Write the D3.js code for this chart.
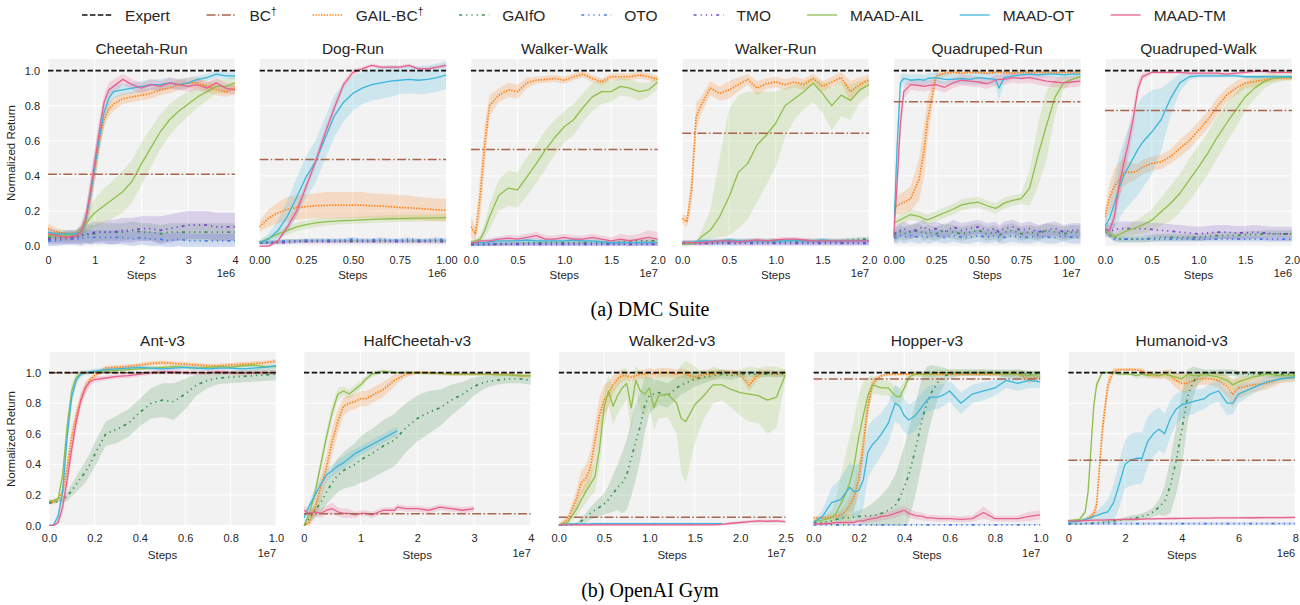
<!DOCTYPE html>
<html>
<head>
<meta charset="utf-8">
<script src="https://cdn.jsdelivr.net/npm/d3@7"></script>
<style>
  body { margin: 0; background: #ffffff; }
  svg { display: block; }
  text { font-family: "Liberation Sans", Arial, sans-serif; fill: #262626; }
</style>
</head>
<body>
<svg id="chart" width="1300" height="605"></svg>
<script>
// ---------------- methods (legend order) ----------------
const methodNames  = ["Expert", "BC", "GAIL-BC", "GAIfO", "OTO", "TMO", "MAAD-AIL", "MAAD-OT", "MAAD-TM"];
const methodDagger = [false, true, true, false, false, false, false, false, false];
const methodColors = ["#111111", "#a8654b", "#ff7f0e", "#3b9150", "#4a7be0", "#7548c8", "#8fbf4b", "#3cb6da", "#e8608f"];
const methodDash   = ["5.5,2.4", "9,2.4,1.5,2.4", "1.4,1.4", "3,4,1.2,4,1.2,4,1.2,4", "3,4,1.2,4,1.2,4,1.2,4", "3,4,1.2,4,1.2,4,1.2,4", null, null, null];
const methodWidth  = [1.6, 1.5, 1.7, 1.7, 1.7, 1.7, 1.3, 1.3, 1.3];

// ================= DMC Suite =================
// Cheetah-Run (x in 1e6 steps)
const cheetahSteps = [0,0.2,0.4,0.6,0.7,0.8,0.9,1.0,1.1,1.2,1.3,1.4,1.6,1.8,2.0,2.2,2.4,2.6,2.8,3.0,3.2,3.4,3.6,3.8,4.0];
const cheetahBC = 0.41;
const cheetahGailBC   = [0.10,0.08,0.07,0.07,0.08,0.13,0.27,0.43,0.60,0.72,0.78,0.81,0.84,0.85,0.86,0.87,0.89,0.90,0.92,0.93,0.93,0.91,0.89,0.88,0.90];
const cheetahGailBCsd = [0.03,0.02,0.02,0.02,0.03,0.05,0.07,0.07,0.06,0.05,0.04,0.04,0.03,0.03,0.03,0.03,0.03,0.03,0.03,0.03,0.03,0.03,0.03,0.03,0.03];
const cheetahGAIfO    = [0.05,0.05,0.05,0.05,0.06,0.06,0.07,0.07,0.08,0.08,0.08,0.08,0.08,0.09,0.08,0.08,0.07,0.08,0.08,0.08,0.08,0.08,0.08,0.08,0.08];
const cheetahGAIfOsd  = [0.03,0.03,0.03,0.03,0.04,0.04,0.05,0.05,0.05,0.05,0.05,0.05,0.05,0.05,0.05,0.05,0.05,0.05,0.05,0.05,0.05,0.05,0.05,0.05,0.05];
const cheetahOTO      = [0.03,0.03,0.04,0.04,0.04,0.05,0.05,0.05,0.05,0.05,0.05,0.05,0.05,0.04,0.05,0.04,0.04,0.03,0.04,0.03,0.03,0.03,0.03,0.03,0.03];
const cheetahOTOsd    = [0.03,0.03,0.03,0.03,0.04,0.04,0.04,0.04,0.04,0.04,0.04,0.04,0.04,0.04,0.04,0.04,0.04,0.04,0.04,0.04,0.04,0.04,0.04,0.04,0.04];
const cheetahTMO      = [0.04,0.04,0.05,0.05,0.06,0.07,0.07,0.08,0.08,0.08,0.08,0.08,0.09,0.09,0.10,0.10,0.09,0.10,0.11,0.12,0.12,0.12,0.11,0.11,0.11];
const cheetahTMOsd    = [0.03,0.03,0.04,0.04,0.05,0.05,0.06,0.06,0.06,0.06,0.07,0.07,0.07,0.07,0.07,0.07,0.08,0.08,0.08,0.08,0.08,0.08,0.08,0.08,0.08];
const cheetahAIL      = [0.06,0.06,0.06,0.07,0.09,0.12,0.16,0.19,0.21,0.23,0.25,0.27,0.31,0.37,0.47,0.56,0.65,0.72,0.77,0.81,0.85,0.88,0.91,0.91,0.93];
const cheetahAILsd    = [0.02,0.02,0.02,0.02,0.03,0.05,0.07,0.08,0.09,0.10,0.10,0.11,0.12,0.12,0.12,0.11,0.10,0.09,0.08,0.07,0.06,0.05,0.04,0.04,0.04];
const cheetahOT       = [0.08,0.07,0.07,0.07,0.08,0.14,0.28,0.45,0.62,0.76,0.84,0.88,0.89,0.90,0.91,0.92,0.92,0.93,0.92,0.93,0.95,0.96,0.98,0.97,0.97];
const cheetahOTsd     = [0.02,0.02,0.02,0.02,0.04,0.07,0.09,0.10,0.09,0.07,0.05,0.04,0.03,0.03,0.03,0.03,0.03,0.03,0.03,0.03,0.02,0.02,0.02,0.02,0.02];
const cheetahTM       = [0.07,0.06,0.05,0.06,0.08,0.15,0.30,0.48,0.66,0.82,0.89,0.91,0.95,0.92,0.90,0.92,0.91,0.93,0.92,0.91,0.92,0.90,0.93,0.90,0.89];
const cheetahTMsd     = [0.02,0.02,0.02,0.02,0.03,0.05,0.07,0.08,0.07,0.05,0.04,0.04,0.03,0.03,0.03,0.03,0.03,0.03,0.03,0.03,0.03,0.03,0.03,0.03,0.03];

// Dog-Run (x in 1e6 steps)
const dogSteps = [0,0.05,0.1,0.15,0.2,0.25,0.3,0.35,0.4,0.45,0.5,0.55,0.6,0.65,0.7,0.75,0.8,0.85,0.9,0.95,1.0];
const dogBC = 0.494;
const dogGailBC   = [0.11,0.16,0.19,0.21,0.22,0.225,0.23,0.232,0.234,0.234,0.234,0.233,0.23,0.228,0.225,0.22,0.218,0.215,0.21,0.207,0.205];
const dogGailBCsd = [0.03,0.05,0.06,0.07,0.07,0.07,0.07,0.075,0.075,0.075,0.075,0.075,0.07,0.07,0.07,0.07,0.07,0.065,0.065,0.065,0.065];
const dogGAIfO    = [0.02,0.02,0.025,0.03,0.03,0.03,0.03,0.03,0.03,0.03,0.03,0.03,0.03,0.03,0.03,0.03,0.03,0.03,0.03,0.03,0.03];
const dogOTO      = [0.02,0.02,0.025,0.03,0.03,0.035,0.035,0.035,0.035,0.035,0.04,0.035,0.035,0.04,0.035,0.035,0.04,0.035,0.035,0.04,0.035];
const dogTMO      = [0.02,0.02,0.02,0.02,0.025,0.025,0.025,0.025,0.025,0.025,0.025,0.025,0.025,0.025,0.025,0.025,0.025,0.025,0.025,0.025,0.025];
const dogMinorSd  = [0.01,0.01,0.01,0.01,0.01,0.01,0.01,0.01,0.01,0.01,0.01,0.01,0.01,0.01,0.01,0.01,0.01,0.01,0.01,0.01,0.01];
const dogAIL      = [0.02,0.045,0.07,0.09,0.11,0.122,0.133,0.138,0.142,0.145,0.147,0.149,0.152,0.154,0.156,0.157,0.158,0.159,0.16,0.161,0.162];
const dogAILsd    = [0.01,0.015,0.02,0.025,0.025,0.025,0.025,0.022,0.02,0.02,0.02,0.02,0.02,0.02,0.02,0.02,0.02,0.02,0.02,0.02,0.02];
const dogOT       = [0.02,0.04,0.09,0.17,0.28,0.395,0.48,0.61,0.74,0.82,0.87,0.90,0.92,0.93,0.94,0.945,0.95,0.945,0.95,0.96,0.975];
const dogOTsd     = [0.01,0.03,0.06,0.09,0.11,0.12,0.12,0.12,0.12,0.11,0.10,0.09,0.09,0.09,0.09,0.08,0.08,0.08,0.08,0.08,0.08];
const dogTM       = [0.00,0.00,0.03,0.11,0.20,0.34,0.48,0.64,0.785,0.92,0.99,1.01,1.03,1.02,1.02,1.02,1.03,1.01,1.01,1.02,1.03];
const dogTMsd     = [0.005,0.005,0.01,0.02,0.03,0.03,0.03,0.03,0.03,0.02,0.02,0.01,0.01,0.01,0.01,0.01,0.01,0.01,0.01,0.01,0.01];

// Walker-Walk (x in 1e7 steps)
const wwSteps = [0,0.05,0.1,0.15,0.2,0.3,0.4,0.5,0.6,0.7,0.8,0.9,1.0,1.1,1.2,1.3,1.4,1.5,1.6,1.7,1.8,1.9,2.0];
const wwBC = 0.551;
const wwGailBC   = [0.11,0.07,0.28,0.585,0.80,0.86,0.89,0.88,0.93,0.945,0.95,0.955,0.945,0.965,0.98,0.955,0.935,0.965,0.965,0.965,0.975,0.965,0.95];
const wwGailBCsd = [0.06,0.04,0.12,0.12,0.06,0.04,0.04,0.04,0.03,0.02,0.02,0.02,0.02,0.02,0.02,0.02,0.02,0.02,0.02,0.02,0.02,0.02,0.02];
const wwGAIfO    = [0.01,0.01,0.01,0.01,0.01,0.015,0.015,0.015,0.02,0.02,0.02,0.02,0.02,0.02,0.02,0.02,0.02,0.02,0.025,0.03,0.03,0.03,0.03];
const wwOTO      = [0.01,0.01,0.01,0.01,0.01,0.01,0.012,0.012,0.012,0.012,0.012,0.012,0.012,0.012,0.012,0.012,0.012,0.012,0.012,0.012,0.012,0.012,0.012];
const wwTMO      = [0.01,0.01,0.01,0.01,0.01,0.01,0.01,0.01,0.01,0.01,0.01,0.01,0.01,0.01,0.01,0.01,0.01,0.01,0.01,0.01,0.01,0.01,0.01];
const wwMinorSd  = [0.01,0.01,0.01,0.01,0.01,0.01,0.01,0.01,0.01,0.01,0.01,0.01,0.01,0.01,0.01,0.01,0.01,0.01,0.01,0.01,0.01,0.01,0.01];
const wwAIL      = [0.02,0.03,0.04,0.09,0.167,0.29,0.33,0.32,0.395,0.47,0.55,0.62,0.68,0.72,0.79,0.85,0.88,0.88,0.91,0.90,0.88,0.89,0.935];
const wwAILsd    = [0.01,0.01,0.02,0.04,0.07,0.09,0.10,0.10,0.11,0.11,0.11,0.10,0.09,0.09,0.08,0.08,0.07,0.06,0.05,0.05,0.05,0.04,0.04];
const wwOT       = [0.02,0.02,0.02,0.02,0.025,0.03,0.03,0.03,0.035,0.03,0.03,0.03,0.03,0.035,0.03,0.03,0.025,0.02,0.02,0.02,0.02,0.02,0.02];
const wwOTsd     = [0.015,0.015,0.015,0.015,0.015,0.015,0.015,0.015,0.015,0.015,0.015,0.015,0.015,0.015,0.015,0.015,0.015,0.015,0.015,0.015,0.015,0.015,0.015];
const wwTM       = [0.02,0.02,0.03,0.03,0.03,0.04,0.045,0.04,0.05,0.06,0.04,0.04,0.05,0.04,0.04,0.05,0.04,0.03,0.04,0.03,0.04,0.05,0.04];
const wwTMsd     = [0.01,0.01,0.01,0.01,0.015,0.015,0.02,0.02,0.02,0.02,0.02,0.02,0.02,0.02,0.02,0.02,0.02,0.02,0.03,0.03,0.03,0.04,0.04];

// Walker-Run (x in 1e7 steps)
const wrSteps = [0,0.05,0.1,0.15,0.2,0.3,0.4,0.5,0.6,0.7,0.8,0.9,1.0,1.1,1.2,1.3,1.4,1.5,1.6,1.7,1.8,1.9,2.0];
const wrBC = 0.643;
const wrGailBC   = [0.158,0.14,0.32,0.74,0.80,0.90,0.87,0.89,0.92,0.95,0.90,0.925,0.935,0.92,0.935,0.92,0.955,0.91,0.935,0.96,0.88,0.92,0.95];
const wrGailBCsd = [0.03,0.03,0.10,0.08,0.05,0.04,0.04,0.05,0.04,0.03,0.04,0.03,0.03,0.03,0.03,0.03,0.03,0.03,0.03,0.03,0.06,0.04,0.03];
const wrGAIfO    = [0.02,0.02,0.02,0.02,0.02,0.02,0.025,0.03,0.03,0.03,0.03,0.03,0.03,0.03,0.03,0.03,0.03,0.03,0.03,0.03,0.035,0.04,0.04];
const wrOTO      = [0.02,0.02,0.02,0.02,0.02,0.02,0.02,0.02,0.02,0.02,0.02,0.02,0.02,0.02,0.02,0.02,0.02,0.02,0.02,0.02,0.02,0.02,0.02];
const wrTMO      = [0.015,0.015,0.015,0.015,0.015,0.015,0.015,0.015,0.015,0.015,0.015,0.015,0.015,0.015,0.015,0.015,0.015,0.015,0.015,0.015,0.015,0.015,0.015];
const wrMinorSd  = [0.012,0.012,0.012,0.012,0.012,0.012,0.012,0.012,0.012,0.012,0.012,0.012,0.012,0.012,0.012,0.012,0.012,0.012,0.012,0.012,0.012,0.012,0.012];
const wrAIL      = [0.01,0.01,0.015,0.02,0.05,0.09,0.167,0.28,0.42,0.47,0.576,0.633,0.70,0.80,0.84,0.88,0.928,0.87,0.80,0.86,0.83,0.89,0.92];
const wrAILlo    = [0.0,0.005,0.01,0.01,0.02,0.04,0.05,0.06,0.10,0.15,0.25,0.35,0.45,0.62,0.72,0.78,0.82,0.76,0.66,0.74,0.72,0.82,0.86];
const wrAILhi    = [0.02,0.02,0.02,0.03,0.08,0.20,0.50,0.78,0.86,0.88,0.88,0.88,0.88,0.90,0.92,0.94,0.96,0.94,0.90,0.94,0.92,0.94,0.95];
const wrOT       = [0.02,0.02,0.02,0.025,0.03,0.03,0.03,0.035,0.03,0.03,0.03,0.03,0.03,0.03,0.035,0.03,0.03,0.035,0.03,0.03,0.03,0.03,0.03];
const wrTM       = [0.02,0.02,0.02,0.02,0.02,0.025,0.03,0.03,0.025,0.03,0.035,0.03,0.035,0.04,0.04,0.035,0.03,0.03,0.03,0.03,0.03,0.03,0.03];

// Quadruped-Run (x in 1e7 steps)
const qrSteps = [0,0.02,0.04,0.06,0.1,0.15,0.18,0.2,0.25,0.3,0.35,0.4,0.45,0.5,0.55,0.6,0.62,0.65,0.7,0.75,0.8,0.85,0.9,0.95,1.0,1.05,1.1];
const qrBC = 0.823;
const qrGailBC   = [0.22,0.23,0.24,0.25,0.27,0.38,0.55,0.72,0.97,0.985,0.99,0.985,0.99,0.99,0.985,0.99,0.99,0.99,0.985,0.99,0.99,0.99,0.99,0.985,0.99,0.99,0.99];
const qrGailBCsd = [0.04,0.05,0.06,0.06,0.07,0.12,0.15,0.12,0.03,0.02,0.01,0.01,0.01,0.01,0.01,0.01,0.01,0.01,0.01,0.01,0.01,0.01,0.01,0.01,0.01,0.01,0.01];
const qrGAIfO    = [0.06,0.07,0.08,0.07,0.08,0.09,0.07,0.08,0.07,0.09,0.08,0.07,0.08,0.09,0.07,0.08,0.06,0.08,0.09,0.07,0.08,0.07,0.09,0.08,0.07,0.08,0.08];
const qrGAIfOsd  = [0.04,0.04,0.04,0.04,0.04,0.04,0.04,0.04,0.04,0.04,0.04,0.04,0.04,0.04,0.04,0.04,0.04,0.04,0.04,0.04,0.04,0.04,0.04,0.04,0.04,0.04,0.04];
const qrOTO      = [0.05,0.05,0.06,0.05,0.06,0.05,0.06,0.05,0.06,0.05,0.06,0.05,0.05,0.06,0.05,0.06,0.05,0.05,0.06,0.05,0.05,0.06,0.05,0.05,0.06,0.05,0.05];
const qrOTOsd    = [0.035,0.035,0.035,0.035,0.035,0.035,0.035,0.035,0.035,0.035,0.035,0.035,0.035,0.035,0.035,0.035,0.035,0.035,0.035,0.035,0.035,0.035,0.035,0.035,0.035,0.035,0.035];
const qrTMO      = [0.07,0.08,0.09,0.10,0.08,0.10,0.11,0.09,0.10,0.08,0.11,0.09,0.10,0.11,0.09,0.10,0.08,0.10,0.11,0.09,0.10,0.08,0.09,0.10,0.08,0.09,0.09];
const qrTMOsd    = [0.04,0.04,0.04,0.04,0.04,0.04,0.04,0.04,0.04,0.04,0.04,0.04,0.04,0.04,0.04,0.04,0.04,0.04,0.04,0.04,0.04,0.04,0.04,0.04,0.04,0.04,0.04];
const qrAIL      = [0.13,0.14,0.15,0.16,0.18,0.17,0.155,0.15,0.17,0.19,0.21,0.235,0.245,0.25,0.23,0.215,0.225,0.245,0.26,0.27,0.33,0.52,0.69,0.85,0.93,0.95,0.965];
const qrAILsd    = [0.02,0.02,0.03,0.03,0.03,0.03,0.03,0.03,0.03,0.03,0.03,0.03,0.03,0.03,0.03,0.03,0.03,0.03,0.03,0.03,0.10,0.18,0.20,0.10,0.04,0.02,0.02];
const qrOT       = [0.05,0.55,0.93,0.955,0.945,0.95,0.945,0.955,0.96,0.95,0.95,0.955,0.95,0.96,0.955,0.95,0.90,0.96,0.97,0.975,0.98,0.975,0.98,0.98,0.975,0.98,0.98];
const qrOTsd     = [0.02,0.10,0.04,0.03,0.03,0.03,0.03,0.03,0.03,0.03,0.03,0.03,0.03,0.04,0.03,0.04,0.07,0.03,0.02,0.02,0.02,0.02,0.02,0.02,0.02,0.02,0.02];
const qrTM       = [0.05,0.35,0.70,0.88,0.92,0.915,0.91,0.915,0.92,0.905,0.93,0.945,0.94,0.935,0.925,0.945,0.95,0.95,0.96,0.955,0.96,0.95,0.94,0.935,0.93,0.935,0.94];
const qrTMsd     = [0.02,0.10,0.10,0.04,0.03,0.03,0.03,0.03,0.03,0.03,0.03,0.03,0.03,0.03,0.03,0.03,0.03,0.03,0.03,0.03,0.03,0.03,0.03,0.03,0.03,0.03,0.03];

// Quadruped-Walk (x in 1e6 steps)
const qwSteps = [0,0.05,0.1,0.15,0.2,0.25,0.3,0.35,0.4,0.5,0.6,0.7,0.8,0.9,1.0,1.1,1.2,1.3,1.4,1.5,1.6,1.7,1.8,1.9,2.0];
const qwBC = 0.772;
const qwGailBC   = [0.167,0.28,0.34,0.376,0.42,0.42,0.42,0.43,0.45,0.47,0.48,0.51,0.557,0.60,0.66,0.72,0.795,0.86,0.90,0.93,0.937,0.947,0.956,0.956,0.956];
const qwGailBCsd = [0.05,0.08,0.10,0.10,0.08,0.06,0.05,0.04,0.04,0.04,0.04,0.04,0.05,0.05,0.05,0.05,0.05,0.04,0.04,0.03,0.03,0.02,0.02,0.01,0.01];
const qwGAIfO    = [0.09,0.07,0.05,0.04,0.04,0.04,0.04,0.04,0.04,0.045,0.05,0.05,0.05,0.05,0.05,0.055,0.06,0.06,0.06,0.065,0.065,0.07,0.07,0.07,0.07];
const qwGAIfOsd  = [0.02,0.02,0.02,0.02,0.02,0.02,0.02,0.02,0.02,0.02,0.02,0.02,0.02,0.02,0.02,0.02,0.02,0.02,0.02,0.02,0.02,0.02,0.02,0.02,0.02];
const qwOTO      = [0.09,0.06,0.04,0.04,0.04,0.04,0.04,0.04,0.04,0.04,0.04,0.04,0.04,0.04,0.04,0.04,0.04,0.04,0.04,0.04,0.04,0.04,0.04,0.04,0.04];
const qwOTOsd    = [0.015,0.015,0.015,0.015,0.015,0.015,0.015,0.015,0.015,0.015,0.015,0.015,0.015,0.015,0.015,0.015,0.015,0.015,0.015,0.015,0.015,0.015,0.015,0.015,0.015];
const qwTMO      = [0.09,0.09,0.09,0.10,0.10,0.10,0.10,0.10,0.10,0.095,0.09,0.085,0.08,0.075,0.07,0.075,0.08,0.08,0.075,0.075,0.08,0.075,0.07,0.07,0.07];
const qwTMOsd    = [0.04,0.04,0.04,0.04,0.04,0.04,0.04,0.04,0.04,0.04,0.04,0.04,0.04,0.04,0.04,0.04,0.04,0.04,0.04,0.04,0.04,0.04,0.04,0.04,0.04];
const qwAIL      = [0.09,0.07,0.053,0.065,0.08,0.09,0.10,0.11,0.12,0.148,0.196,0.243,0.30,0.376,0.45,0.53,0.62,0.70,0.776,0.85,0.90,0.937,0.956,0.962,0.962];
const qwAILsd    = [0.02,0.02,0.02,0.02,0.03,0.03,0.04,0.04,0.05,0.06,0.08,0.10,0.11,0.12,0.12,0.12,0.12,0.11,0.10,0.08,0.06,0.04,0.03,0.02,0.02];
const qwOT       = [0.11,0.16,0.24,0.33,0.40,0.45,0.50,0.55,0.59,0.65,0.72,0.84,0.93,0.965,0.97,0.97,0.97,0.97,0.97,0.965,0.965,0.965,0.965,0.965,0.965];
const qwOTsd     = [0.03,0.08,0.14,0.18,0.20,0.22,0.24,0.26,0.26,0.24,0.18,0.10,0.05,0.02,0.01,0.01,0.01,0.01,0.01,0.01,0.01,0.01,0.01,0.01,0.01];
const qwTM       = [0.09,0.09,0.167,0.34,0.47,0.585,0.72,0.89,0.966,0.99,0.99,0.99,0.99,0.985,0.985,0.985,0.985,0.98,0.985,0.99,0.995,0.995,0.99,0.99,0.99];
const qwTMsd     = [0.02,0.03,0.06,0.08,0.08,0.08,0.07,0.05,0.02,0.01,0.01,0.01,0.01,0.01,0.01,0.01,0.01,0.01,0.01,0.01,0.01,0.01,0.01,0.01,0.01];

// ================= OpenAI Gym =================
// Ant-v3 (x in 1e7 steps)
const antSteps = [0,0.02,0.04,0.06,0.08,0.1,0.12,0.14,0.16,0.18,0.2,0.25,0.3,0.35,0.4,0.45,0.5,0.55,0.6,0.65,0.7,0.75,0.8,0.85,0.9,0.95,1.0];
const antBC = 1.0;
const antGailBC   = [0.15,0.155,0.17,0.22,0.38,0.58,0.72,0.82,0.90,0.95,0.98,1.03,1.035,1.04,1.05,1.06,1.065,1.06,1.055,1.05,1.045,1.045,1.05,1.055,1.06,1.065,1.075];
const antGailBCsd = [0.01,0.01,0.02,0.04,0.06,0.06,0.05,0.04,0.03,0.02,0.02,0.015,0.015,0.015,0.015,0.015,0.015,0.015,0.015,0.015,0.015,0.015,0.015,0.015,0.015,0.015,0.015];
const antGAIfO    = [0.15,0.15,0.16,0.17,0.19,0.23,0.27,0.31,0.35,0.40,0.46,0.60,0.63,0.67,0.74,0.80,0.82,0.81,0.86,0.92,0.95,0.965,0.97,0.975,0.98,0.985,0.99];
const antGAIfOsd  = [0.01,0.01,0.01,0.02,0.03,0.04,0.05,0.06,0.07,0.07,0.08,0.08,0.09,0.09,0.09,0.10,0.11,0.12,0.10,0.07,0.05,0.04,0.04,0.04,0.04,0.04,0.04];
const antAIL      = [0.16,0.165,0.175,0.33,0.65,0.88,0.97,0.995,1.0,1.0,1.005,1.01,1.015,1.02,1.025,1.03,1.035,1.04,1.035,1.03,1.035,1.04,1.035,1.045,1.05,1.04,1.04];
const antAILsd    = [0.01,0.01,0.01,0.04,0.06,0.05,0.03,0.02,0.01,0.01,0.01,0.01,0.01,0.01,0.01,0.01,0.01,0.01,0.01,0.01,0.01,0.01,0.01,0.01,0.01,0.01,0.01];
const antOT       = [0.0,0.005,0.06,0.22,0.58,0.84,0.95,0.99,1.0,1.005,1.01,1.02,1.025,1.03,1.035,1.03,1.025,1.03,1.035,1.03,1.025,1.03,1.03,1.025,1.03,1.035,1.045];
const antOTsd     = [0.005,0.01,0.03,0.06,0.07,0.05,0.03,0.02,0.015,0.015,0.015,0.015,0.015,0.015,0.015,0.015,0.015,0.015,0.015,0.015,0.015,0.015,0.015,0.015,0.015,0.015,0.015];
const antTM       = [0.0,0.0,0.02,0.12,0.30,0.50,0.68,0.82,0.90,0.94,0.955,0.965,0.975,0.98,0.99,1.0,1.005,1.005,1.0,1.0,1.0,1.005,1.0,0.995,1.0,1.0,1.0];
const antTMsd     = [0.005,0.01,0.02,0.05,0.07,0.07,0.06,0.05,0.04,0.03,0.02,0.015,0.015,0.015,0.015,0.015,0.015,0.015,0.015,0.015,0.015,0.015,0.015,0.015,0.015,0.015,0.015];

// HalfCheetah-v3 (x in 1e7 steps)
const hcSteps = [0,0.1,0.2,0.3,0.4,0.5,0.6,0.7,0.8,0.9,1.0,1.1,1.2,1.4,1.6,1.65,1.8,2.0,2.2,2.4,2.6,2.8,3.0,3.2,3.4,3.6,3.8,4.0];
const hcBC = 0.077;
const hcGailBC   = [0.0,0.02,0.12,0.25,0.38,0.55,0.68,0.78,0.80,0.81,0.83,0.83,0.85,0.89,0.95,0.96,0.99,1.0,1.0,0.995,0.99,0.99,0.99,0.99,0.99,0.99,0.98,0.98];
const hcGailBCsd = [0.01,0.03,0.06,0.08,0.09,0.09,0.08,0.06,0.05,0.05,0.05,0.05,0.05,0.05,0.04,0.03,0.02,0.01,0.01,0.01,0.01,0.01,0.01,0.01,0.01,0.01,0.01,0.01];
const hcGAIfO    = [0.0,0.05,0.10,0.15,0.22,0.28,0.33,0.36,0.38,0.40,0.43,0.45,0.47,0.52,0.56,0.58,0.64,0.70,0.74,0.77,0.82,0.86,0.91,0.94,0.95,0.96,0.96,0.95];
const hcGAIfOsd  = [0.01,0.03,0.05,0.07,0.08,0.10,0.11,0.12,0.13,0.14,0.15,0.16,0.16,0.17,0.17,0.17,0.16,0.15,0.14,0.12,0.10,0.08,0.06,0.04,0.03,0.03,0.03,0.03];
const hcAIL      = [0.0,0.08,0.22,0.40,0.58,0.74,0.86,0.88,0.86,0.89,0.92,0.96,0.99,1.01,1.0,1.0,1.0,1.0,0.995,0.995,0.99,0.99,0.99,0.99,0.985,0.985,0.98,0.98];
const hcAILsd    = [0.01,0.03,0.04,0.05,0.05,0.05,0.04,0.03,0.03,0.03,0.03,0.02,0.02,0.01,0.01,0.01,0.01,0.01,0.01,0.01,0.01,0.01,0.01,0.01,0.01,0.01,0.01,0.01];
const hcOT       = [0.05,0.13,0.20,0.27,0.33,0.36,0.39,0.41,0.44,0.47,0.49,0.51,0.53,0.57,0.61,0.62,null,null,null,null,null,null,null,null,null,null,null,null];
const hcOTsd     = [0.02,0.03,0.04,0.04,0.04,0.04,0.04,0.04,0.04,0.03,0.03,0.03,0.03,0.03,0.03,0.03,null,null,null,null,null,null,null,null,null,null,null,null];
const hcTM       = [0.10,0.08,0.09,0.08,0.10,0.11,0.09,0.08,0.08,0.07,0.08,0.08,0.07,0.10,0.10,0.12,0.11,0.11,0.10,0.12,0.11,0.10,0.11,null,null,null,null,null];
const hcTMsd     = [0.03,0.03,0.03,0.03,0.03,0.04,0.03,0.03,0.03,0.02,0.02,0.02,0.02,0.02,0.02,0.02,0.02,0.02,0.02,0.02,0.02,0.02,0.02,null,null,null,null,null];

// Walker2d-v3 (x in 1e7 steps)
const w2Steps = [0,0.1,0.2,0.25,0.3,0.35,0.4,0.45,0.5,0.55,0.6,0.65,0.7,0.75,0.8,0.85,0.9,0.95,1.0,1.05,1.1,1.2,1.3,1.35,1.4,1.5,1.6,1.7,1.8,1.9,2.0,2.1,2.2,2.3,2.4,2.5];
const w2BC = 0.055;
const w2GailBC   = [0.0,0.04,0.18,0.28,0.31,0.38,0.55,0.72,0.82,0.86,0.92,0.96,0.98,0.98,0.97,0.98,0.99,0.99,1.0,0.99,1.0,1.0,0.99,1.0,0.99,0.97,0.99,0.99,1.0,1.0,0.99,0.92,0.99,1.0,0.99,1.0];
const w2GailBCsd = [0.01,0.02,0.06,0.08,0.09,0.10,0.12,0.12,0.10,0.08,0.06,0.05,0.04,0.03,0.03,0.03,0.03,0.03,0.03,0.03,0.03,0.03,0.03,0.03,0.03,0.03,0.03,0.03,0.02,0.02,0.02,0.04,0.03,0.02,0.02,0.02];
const w2GAIfO    = [0.0,0.0,0.01,0.03,0.05,0.08,0.10,0.12,0.14,0.17,0.21,0.25,0.28,0.33,0.44,0.55,0.65,0.79,0.85,0.86,0.87,0.85,0.90,0.92,0.93,0.96,0.97,0.98,0.99,0.98,0.99,0.99,0.99,0.99,0.99,0.99];
const w2GAIfOsd  = [0.0,0.0,0.01,0.02,0.03,0.04,0.05,0.06,0.07,0.09,0.12,0.15,0.20,0.23,0.25,0.25,0.22,0.18,0.12,0.10,0.08,0.08,0.07,0.06,0.06,0.05,0.04,0.03,0.03,0.03,0.02,0.02,0.02,0.02,0.02,0.02];
const w2AIL      = [0.0,0.02,0.11,0.17,0.22,0.27,0.32,0.50,0.77,0.88,0.78,0.85,0.90,0.93,0.77,0.95,0.88,0.86,0.90,0.77,0.85,0.86,0.80,0.70,0.68,0.79,0.85,0.92,0.92,0.89,0.87,0.86,0.85,0.82,0.84,0.99];
const w2AILsd    = [0.01,0.02,0.05,0.06,0.07,0.08,0.10,0.12,0.12,0.10,0.12,0.12,0.12,0.10,0.15,0.10,0.12,0.14,0.12,0.15,0.15,0.15,0.20,0.35,0.40,0.25,0.15,0.12,0.10,0.12,0.15,0.18,0.18,0.22,0.20,0.03];
const w2OT       = [0.0,0.01,0.01,0.01,0.01,0.01,0.012,0.012,0.012,0.012,0.012,0.012,0.012,0.012,0.012,0.012,0.012,0.012,0.012,0.012,0.012,0.012,0.012,0.012,0.012,0.012,0.012,0.012,0.012,null,null,null,null,null,null,null];
const w2OTsd     = [0.008,0.008,0.008,0.008,0.008,0.008,0.008,0.008,0.008,0.008,0.008,0.008,0.008,0.008,0.008,0.008,0.008,0.008,0.008,0.008,0.008,0.008,0.008,0.008,0.008,0.008,0.008,0.008,0.008,null,null,null,null,null,null,null];
const w2TM       = [0.005,0.005,0.005,0.005,0.005,0.005,0.005,0.005,0.005,0.005,0.005,0.005,0.005,0.005,0.005,0.005,0.005,0.005,0.005,0.005,0.005,0.005,0.005,0.005,0.005,0.005,0.005,0.005,0.008,0.015,0.02,0.025,0.03,0.028,0.03,0.025];
const w2TMsd     = [0.008,0.008,0.008,0.008,0.008,0.008,0.008,0.008,0.008,0.008,0.008,0.008,0.008,0.008,0.008,0.008,0.008,0.008,0.008,0.008,0.008,0.008,0.008,0.008,0.008,0.008,0.008,0.008,0.01,0.01,0.01,0.01,0.01,0.01,0.01,0.01];

// Hopper-v3 (x in 1e7 steps)
const hopSteps = [0,0.04,0.08,0.1,0.12,0.14,0.16,0.18,0.2,0.22,0.24,0.26,0.28,0.3,0.33,0.36,0.38,0.4,0.42,0.45,0.48,0.5,0.52,0.55,0.58,0.6,0.65,0.7,0.75,0.8,0.85,0.9,0.95,1.0];
const hopBC = 0.958;
const hopGailBC   = [0.05,0.05,0.055,0.06,0.07,0.09,0.13,0.19,0.30,0.52,0.78,0.92,0.96,0.98,0.99,0.99,0.99,0.99,0.99,0.99,0.99,0.99,0.99,0.99,0.99,0.99,0.99,0.99,0.99,0.99,0.99,0.99,0.96,0.97];
const hopGailBCsd = [0.01,0.01,0.02,0.02,0.03,0.04,0.06,0.08,0.10,0.10,0.08,0.04,0.02,0.01,0.01,0.01,0.01,0.01,0.01,0.01,0.01,0.01,0.01,0.01,0.01,0.01,0.01,0.01,0.01,0.01,0.02,0.02,0.03,0.02];
const hopGAIfO    = [0.02,0.02,0.03,0.04,0.045,0.05,0.05,0.055,0.06,0.06,0.065,0.065,0.07,0.08,0.10,0.13,0.18,0.25,0.33,0.50,0.70,0.80,0.87,0.94,0.98,0.99,1.0,1.0,1.0,1.0,1.0,1.0,0.99,0.99];
const hopGAIfOsd  = [0.01,0.01,0.01,0.01,0.02,0.02,0.02,0.03,0.04,0.05,0.06,0.08,0.10,0.12,0.15,0.20,0.24,0.27,0.30,0.30,0.28,0.24,0.18,0.10,0.05,0.03,0.02,0.02,0.02,0.02,0.02,0.02,0.02,0.02];
const hopOTO      = [0.005,0.005,0.005,0.005,0.005,0.005,0.005,0.005,0.005,0.005,0.005,0.005,0.005,0.005,0.005,0.005,0.005,0.005,0.005,0.005,0.005,0.005,0.005,0.005,0.005,0.005,0.005,0.005,0.005,0.005,0.005,0.005,0.005,0.005];
const hopOTOsd    = [0.005,0.005,0.005,0.005,0.005,0.005,0.005,0.005,0.005,0.005,0.005,0.005,0.005,0.005,0.005,0.005,0.005,0.005,0.005,0.005,0.005,0.005,0.005,0.005,0.005,0.005,0.005,0.005,0.005,0.005,0.005,0.005,0.005,0.005];
const hopAIL      = [0.03,0.035,0.05,0.08,0.14,0.20,0.28,0.40,0.58,0.72,0.85,0.92,0.91,0.90,0.90,0.85,0.84,0.90,0.97,0.99,0.99,0.99,0.99,1.0,1.0,1.0,1.0,1.0,1.0,0.995,0.99,0.99,0.98,0.99];
const hopAILsd    = [0.01,0.02,0.05,0.10,0.18,0.25,0.30,0.30,0.28,0.22,0.12,0.06,0.05,0.05,0.05,0.06,0.06,0.05,0.03,0.02,0.02,0.02,0.02,0.02,0.02,0.02,0.02,0.02,0.02,0.02,0.02,0.03,0.03,0.02];
const hopOT       = [0.02,0.06,0.15,0.16,0.17,0.21,0.25,0.22,0.23,0.30,0.48,0.53,0.56,0.60,0.67,0.80,0.78,0.72,0.69,0.72,0.78,0.82,0.84,0.84,0.86,0.88,0.80,0.86,0.88,0.90,0.95,0.93,0.95,0.94];
const hopOTsd     = [0.01,0.04,0.10,0.12,0.14,0.15,0.16,0.17,0.18,0.18,0.17,0.16,0.15,0.14,0.13,0.12,0.12,0.11,0.10,0.10,0.09,0.08,0.08,0.08,0.07,0.07,0.07,0.06,0.06,0.05,0.05,0.05,0.05,0.04];
const hopTM       = [0.01,0.01,0.015,0.02,0.02,0.02,0.02,0.02,0.03,0.03,0.04,0.045,0.05,0.06,0.065,0.08,0.09,0.10,0.08,0.065,0.06,0.05,0.05,0.045,0.045,0.045,0.04,0.045,0.085,0.045,0.045,0.045,0.06,0.07];
const hopTMsd     = [0.01,0.01,0.01,0.01,0.01,0.01,0.015,0.015,0.02,0.02,0.02,0.02,0.025,0.025,0.025,0.03,0.03,0.03,0.03,0.025,0.025,0.02,0.02,0.02,0.02,0.02,0.02,0.02,0.04,0.02,0.02,0.02,0.03,0.03];

// Humanoid-v3 (x in 1e6 steps)
const humSteps = [0,0.4,0.6,0.7,0.8,0.9,1.0,1.2,1.4,1.6,1.8,2.0,2.2,2.4,2.6,2.8,3.0,3.2,3.4,3.6,3.8,4.0,4.2,4.4,4.6,4.8,5.0,5.3,5.6,5.8,6.0,6.5,7.0,7.5,8.0];
const humBC = 0.427;
const humGailBC   = [0.03,0.03,0.04,0.05,0.06,0.08,0.13,0.62,0.92,1.01,1.02,1.02,1.02,1.02,1.01,0.99,0.98,0.98,0.99,0.98,0.95,0.93,0.93,0.95,0.96,0.96,0.96,0.95,0.91,0.86,0.90,0.92,0.93,0.96,0.97];
const humGailBCsd = [0.01,0.01,0.01,0.01,0.02,0.03,0.05,0.08,0.05,0.02,0.01,0.01,0.01,0.01,0.02,0.02,0.02,0.02,0.03,0.04,0.05,0.06,0.06,0.05,0.04,0.04,0.04,0.05,0.07,0.09,0.07,0.05,0.04,0.03,0.03];
const humGAIfO    = [0.01,0.01,0.015,0.015,0.015,0.02,0.02,0.02,0.025,0.03,0.035,0.04,0.045,0.05,0.06,0.07,0.09,0.12,0.16,0.26,0.42,0.62,0.84,0.94,0.98,0.99,1.0,1.0,1.0,1.0,0.99,0.99,0.99,0.99,0.99];
const humGAIfOsd  = [0.005,0.005,0.005,0.005,0.005,0.005,0.005,0.01,0.01,0.01,0.01,0.015,0.02,0.02,0.02,0.025,0.03,0.05,0.10,0.18,0.22,0.24,0.18,0.10,0.05,0.03,0.02,0.02,0.02,0.02,0.02,0.02,0.02,0.02,0.02];
const humOTO      = [0.012,0.012,0.012,0.012,0.012,0.012,0.012,0.012,0.012,0.012,0.012,0.012,0.012,0.012,0.012,0.012,0.012,0.012,0.012,0.012,0.012,0.012,0.012,0.012,0.012,0.012,0.012,0.012,0.012,0.012,0.012,0.012,0.012,0.012,0.012];
const humOTOsd    = [0.01,0.01,0.01,0.01,0.01,0.01,0.01,0.01,0.01,0.01,0.01,0.01,0.01,0.01,0.01,0.01,0.01,0.01,0.01,0.01,0.01,0.01,0.01,0.01,0.01,0.01,0.01,0.01,0.01,0.01,0.01,0.01,0.01,0.01,0.01];
const humAIL      = [0.03,0.04,0.09,0.22,0.50,0.78,0.92,1.0,1.0,1.0,0.99,0.99,0.99,0.98,0.99,0.98,0.99,0.98,0.99,0.98,0.97,0.96,0.99,0.98,0.98,0.99,0.98,0.97,0.95,0.92,0.94,0.97,0.99,0.98,0.98];
const humAILsd    = [0.01,0.01,0.02,0.04,0.05,0.04,0.03,0.01,0.01,0.01,0.01,0.01,0.01,0.02,0.02,0.02,0.02,0.02,0.02,0.03,0.03,0.03,0.02,0.02,0.02,0.02,0.02,0.03,0.03,0.04,0.03,0.02,0.02,0.02,0.02];
const humOT       = [0.02,0.03,0.04,0.045,0.05,0.06,0.065,0.08,0.09,0.15,0.27,0.40,0.43,0.44,0.44,0.55,0.60,0.63,0.60,0.70,0.76,0.79,0.80,0.81,0.82,0.83,0.86,0.88,0.80,0.80,0.86,0.90,0.94,0.96,0.97];
const humOTsd     = [0.01,0.01,0.01,0.02,0.02,0.03,0.03,0.05,0.08,0.12,0.15,0.16,0.17,0.17,0.17,0.16,0.15,0.14,0.13,0.12,0.10,0.09,0.08,0.08,0.07,0.07,0.07,0.07,0.08,0.07,0.06,0.04,0.03,0.02,0.02];
const humTM       = [0.03,0.03,0.032,0.033,0.034,0.035,0.035,0.036,0.037,0.038,0.039,0.04,0.04,0.041,0.042,0.043,0.044,0.045,0.045,0.046,0.046,0.047,0.047,0.048,0.048,0.049,0.049,0.05,0.05,0.05,0.05,0.051,0.052,0.052,0.053];
const humTMsd     = [0.008,0.008,0.008,0.008,0.008,0.008,0.008,0.008,0.008,0.008,0.008,0.008,0.008,0.008,0.008,0.008,0.008,0.008,0.008,0.008,0.008,0.008,0.008,0.008,0.008,0.008,0.008,0.008,0.008,0.008,0.008,0.008,0.008,0.008,0.008];

// ---------------- panel tables ----------------
const dmcPanels = [
  { title: "Cheetah-Run", steps: cheetahSteps, xMax: 4, xTicks: [0,1,2,3,4], fmt: "d", exp: "1e6", bc: cheetahBC,
    series: [[2, cheetahGailBC, cheetahGailBCsd], [3, cheetahGAIfO, cheetahGAIfOsd], [4, cheetahOTO, cheetahOTOsd], [5, cheetahTMO, cheetahTMOsd],
             [6, cheetahAIL, cheetahAILsd], [7, cheetahOT, cheetahOTsd], [8, cheetahTM, cheetahTMsd]] },
  { title: "Dog-Run", steps: dogSteps, xMax: 1, xTicks: [0,0.25,0.5,0.75,1.0], fmt: ".2f", exp: "1e6", bc: dogBC,
    series: [[2, dogGailBC, dogGailBCsd], [3, dogGAIfO, dogMinorSd], [4, dogOTO, dogMinorSd], [5, dogTMO, dogMinorSd],
             [6, dogAIL, dogAILsd], [7, dogOT, dogOTsd], [8, dogTM, dogTMsd]] },
  { title: "Walker-Walk", steps: wwSteps, xMax: 2, xTicks: [0,0.5,1.0,1.5,2.0], fmt: ".1f", exp: "1e7", bc: wwBC,
    series: [[2, wwGailBC, wwGailBCsd], [3, wwGAIfO, wwMinorSd], [4, wwOTO, wwMinorSd], [5, wwTMO, wwMinorSd],
             [6, wwAIL, wwAILsd], [7, wwOT, wwOTsd], [8, wwTM, wwTMsd]] },
  { title: "Walker-Run", steps: wrSteps, xMax: 2, xTicks: [0,0.5,1.0,1.5,2.0], fmt: ".1f", exp: "1e7", bc: wrBC,
    series: [[2, wrGailBC, wrGailBCsd], [3, wrGAIfO, wrMinorSd], [4, wrOTO, wrMinorSd], [5, wrTMO, wrMinorSd],
             [6, wrAIL, null, wrAILlo, wrAILhi], [7, wrOT, wrMinorSd], [8, wrTM, wrMinorSd]] },
  { title: "Quadruped-Run", steps: qrSteps, xMax: 1.1, xTicks: [0,0.25,0.5,0.75,1.0], fmt: ".2f", exp: "1e7", bc: qrBC,
    series: [[2, qrGailBC, qrGailBCsd], [3, qrGAIfO, qrGAIfOsd], [4, qrOTO, qrOTOsd], [5, qrTMO, qrTMOsd],
             [6, qrAIL, qrAILsd], [7, qrOT, qrOTsd], [8, qrTM, qrTMsd]] },
  { title: "Quadruped-Walk", steps: qwSteps, xMax: 2, xTicks: [0,0.5,1.0,1.5,2.0], fmt: ".1f", exp: "1e6", bc: qwBC,
    series: [[2, qwGailBC, qwGailBCsd], [3, qwGAIfO, qwGAIfOsd], [4, qwOTO, qwOTOsd], [5, qwTMO, qwTMOsd],
             [6, qwAIL, qwAILsd], [7, qwOT, qwOTsd], [8, qwTM, qwTMsd]] }
];

const gymPanels = [
  { title: "Ant-v3", steps: antSteps, xMax: 1, xTicks: [0,0.2,0.4,0.6,0.8,1.0], fmt: ".1f", exp: "1e7", bc: antBC,
    series: [[2, antGailBC, antGailBCsd], [3, antGAIfO, antGAIfOsd], [6, antAIL, antAILsd], [7, antOT, antOTsd], [8, antTM, antTMsd]] },
  { title: "HalfCheetah-v3", steps: hcSteps, xMax: 4, xTicks: [0,1,2,3,4], fmt: "d", exp: "1e7", bc: hcBC,
    series: [[2, hcGailBC, hcGailBCsd], [3, hcGAIfO, hcGAIfOsd], [6, hcAIL, hcAILsd], [7, hcOT, hcOTsd], [8, hcTM, hcTMsd]] },
  { title: "Walker2d-v3", steps: w2Steps, xMax: 2.5, xTicks: [0,0.5,1.0,1.5,2.0,2.5], fmt: ".1f", exp: "1e7", bc: w2BC,
    series: [[2, w2GailBC, w2GailBCsd], [3, w2GAIfO, w2GAIfOsd], [6, w2AIL, w2AILsd], [7, w2OT, w2OTsd], [8, w2TM, w2TMsd]] },
  { title: "Hopper-v3", steps: hopSteps, xMax: 1, xTicks: [0,0.2,0.4,0.6,0.8,1.0], fmt: ".1f", exp: "1e7", bc: hopBC,
    series: [[2, hopGailBC, hopGailBCsd], [3, hopGAIfO, hopGAIfOsd], [4, hopOTO, hopOTOsd], [6, hopAIL, hopAILsd], [7, hopOT, hopOTsd], [8, hopTM, hopTMsd]] },
  { title: "Humanoid-v3", steps: humSteps, xMax: 8, xTicks: [0,2,4,6,8], fmt: "d", exp: "1e6", bc: humBC,
    series: [[2, humGailBC, humGailBCsd], [3, humGAIfO, humGAIfOsd], [4, humOTO, humOTOsd], [6, humAIL, humAILsd], [7, humOT, humOTsd], [8, humTM, humTMsd]] }
];

// ---------------- layout of the two rows ----------------
const topRow = { x0: 48, dx: 211.4, w: 187, y: 59, h: 188, yDomain: [-0.005, 1.066], yTicks: [0,0.2,0.4,0.6,0.8,1.0],
                 titleY: 53.5, tickPad: 9, labelY: 279, expY: 277 };
const botRow = { x0: 49, dx: 254.8, w: 227, y: 352, h: 174, yDomain: [-0.003, 1.135], yTicks: [0,0.2,0.4,0.6,0.8,1.0],
                 titleY: 345.5, tickPad: 8, labelY: 559, expY: 557 };

const svg = d3.select("#chart");
const defs = svg.append("defs");
let clipCount = 0;

function styleLine(sel, m) {
  sel.attr("fill", "none")
     .attr("stroke", methodColors[m])
     .attr("stroke-width", methodWidth[m])
     .attr("stroke-linejoin", "round")
     .attr("stroke-dasharray", methodDash[m]);
}

function drawPanel(p, row, col) {
  const left = row.x0 + col * row.dx, top = row.y, w = row.w, h = row.h;
  const x = d3.scaleLinear().domain([0, p.xMax]).range([left, left + w]);
  const y = d3.scaleLinear().domain(row.yDomain).range([top + h, top]);
  const g = svg.append("g");

  g.append("rect").attr("x", left).attr("y", top).attr("width", w).attr("height", h).attr("fill", "#f2f2f2");

  // white grid
  g.append("g").selectAll("line").data(p.xTicks).join("line")
    .attr("x1", d => x(d)).attr("x2", d => x(d)).attr("y1", top).attr("y2", top + h)
    .attr("stroke", "#ffffff").attr("stroke-width", 1);
  g.append("g").selectAll("line").data(row.yTicks).join("line")
    .attr("x1", left).attr("x2", left + w).attr("y1", d => y(d)).attr("y2", d => y(d))
    .attr("stroke", "#ffffff").attr("stroke-width", 1);

  const cid = "plotclip" + (++clipCount);
  defs.append("clipPath").attr("id", cid).append("rect")
    .attr("x", left).attr("y", top).attr("width", w).attr("height", h);
  const plot = g.append("g").attr("clip-path", `url(#${cid})`);

  // shaded spread
  p.series.forEach(([m, mean, sd, lo, hi]) => {
    const idx = d3.range(p.steps.length).filter(i => mean[i] != null);
    const area = d3.area()
      .x(i => x(p.steps[i]))
      .y0(i => y(lo ? lo[i] : mean[i] - sd[i]))
      .y1(i => y(hi ? hi[i] : mean[i] + sd[i]));
    plot.append("path").datum(idx).attr("d", area)
      .attr("fill", methodColors[m]).attr("fill-opacity", 0.2).attr("stroke", "none");
  });

  // mean curves
  p.series.forEach(([m, mean]) => {
    const idx = d3.range(p.steps.length).filter(i => mean[i] != null);
    const line = d3.line().x(i => x(p.steps[i])).y(i => y(mean[i]));
    plot.append("path").datum(idx).attr("d", line).call(styleLine, m);
  });

  // BC and expert reference levels
  const level = d3.line().x(d => x(d[0])).y(d => y(d[1]));
  plot.append("path").datum([[0, p.bc], [p.xMax, p.bc]]).attr("d", level).call(styleLine, 1);
  plot.append("path").datum([[0, 1.0], [p.xMax, 1.0]]).attr("d", level).call(styleLine, 0);

  // x axis labels
  const xAxis = d3.axisBottom(x).tickValues(p.xTicks).tickFormat(d3.format(p.fmt)).tickSize(0).tickPadding(row.tickPad);
  const ax = g.append("g").attr("transform", `translate(0,${top + h})`).call(xAxis);
  ax.select(".domain").remove();
  ax.selectAll("text").attr("font-size", 11).attr("font-family", "Liberation Sans, Arial, sans-serif").attr("fill", "#262626");

  if (col === 0) {
    const yAxis = d3.axisLeft(y).tickValues(row.yTicks).tickFormat(d3.format(".1f")).tickSize(0).tickPadding(8);
    const ay = g.append("g").attr("transform", `translate(${left},0)`).call(yAxis);
    ay.select(".domain").remove();
    ay.selectAll("text").attr("font-size", 11).attr("font-family", "Liberation Sans, Arial, sans-serif").attr("fill", "#262626");
    g.append("text").attr("transform", `translate(15,${top + h / 2}) rotate(-90)`)
      .attr("text-anchor", "middle").attr("font-size", 11.5).text("Normalized Return");
  }

  g.append("text").attr("x", left + w / 2).attr("y", row.titleY).attr("text-anchor", "middle")
    .attr("font-size", 15.5).text(p.title);
  g.append("text").attr("x", left + w / 2).attr("y", row.labelY).attr("text-anchor", "middle")
    .attr("font-size", 11.5).text("Steps");
  g.append("text").attr("x", left + w).attr("y", row.expY).attr("text-anchor", "end")
    .attr("font-size", 11).text(p.exp);
}

dmcPanels.forEach((p, i) => drawPanel(p, topRow, i));
gymPanels.forEach((p, i) => drawPanel(p, botRow, i));

// ---------------- legend ----------------
const legend = svg.append("g");
const handleLen = 30, handlePad = 13, colGap = 36, legendY = 15;
const items = methodNames.map((name, m) => {
  const it = legend.append("g");
  it.append("line").attr("x1", 0).attr("x2", handleLen).attr("y1", 0).attr("y2", 0).call(styleLine, m);
  const t = it.append("text").attr("x", handleLen + handlePad).attr("y", 5.5).attr("font-size", 15.5).text(name);
  if (methodDagger[m]) t.append("tspan").attr("font-size", 10).attr("dy", -6).text("\u2020");
  const tw = t.node().getBBox().width;
  return { it, width: handleLen + handlePad + tw };
});
const totalW = d3.sum(items, d => d.width) + colGap * (items.length - 1);
let cursor = 654 - totalW / 2;
items.forEach(d => {
  d.it.attr("transform", `translate(${cursor},${legendY})`);
  cursor += d.width + colGap;
});

// ---------------- sub-figure captions ----------------
svg.append("text").attr("x", 650).attr("y", 316).attr("text-anchor", "middle")
  .attr("font-family", "Liberation Serif, Times New Roman, serif").style("font-family", "Liberation Serif, serif")
  .attr("font-size", 20).attr("fill", "#000").style("fill", "#000").text("(a) DMC Suite");
svg.append("text").attr("x", 650).attr("y", 597).attr("text-anchor", "middle")
  .style("font-family", "Liberation Serif, serif")
  .attr("font-size", 20).style("fill", "#000").text("(b) OpenAI Gym");
</script>
</body>
</html>
